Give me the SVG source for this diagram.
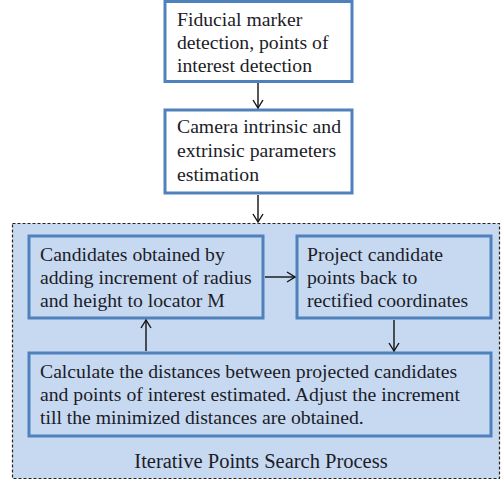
<svg xmlns="http://www.w3.org/2000/svg" width="503" height="480" viewBox="0 0 503 480">
<defs>
<marker id="arr" markerWidth="12" markerHeight="12" refX="10" refY="6" orient="auto" markerUnits="userSpaceOnUse">
<path d="M2,1 L10,6 L2,11" fill="none" stroke="#111" stroke-width="1.4"/>
</marker>
<style>
.box{stroke:#4f81bd;stroke-width:3}
.w{fill:#fff}
.b{fill:#c6d9f1}
.c{stroke:#111;stroke-width:1.4;fill:none;marker-end:url(#arr)}
.t{font-family:'Liberation Serif','Times New Roman',serif;font-size:19.7px;fill:#1c1c28}
</style>
</defs>
<rect width="503" height="480" fill="#fff"/>
<g class="t">
<g id="container">
<rect x="12.5" y="223.5" width="487" height="255" fill="#c6d9f1" stroke="#222" stroke-width="1.2" stroke-dasharray="3,2"/>
<text x="261" y="468" text-anchor="middle" font-size="20.5">Iterative Points Search Process</text>
</g>
<g id="n1">
<rect class="box w" x="165" y="1.5" width="187" height="80"/>
<text x="177" y="26">Fiducial marker</text>
<text x="177" y="49">detection, points of</text>
<text x="177" y="72">interest detection</text>
</g>
<g id="n2">
<rect class="box w" x="165" y="110" width="187" height="83"/>
<text x="177" y="133">Camera intrinsic and</text>
<text x="177" y="157">extrinsic parameters</text>
<text x="177" y="181">estimation</text>
</g>
<g id="n3">
<rect class="box b" x="29" y="236" width="234" height="82"/>
<text x="40" y="261">Candidates obtained by</text>
<text x="40" y="284">adding increment of radius</text>
<text x="40" y="307">and height to locator M</text>
</g>
<g id="n4">
<rect class="box b" x="297" y="236" width="194" height="82"/>
<text x="307" y="261">Project candidate</text>
<text x="307" y="284">points back to</text>
<text x="307" y="307">rectified coordinates</text>
</g>
<g id="n5">
<rect class="box b" x="29" y="353" width="462" height="83"/>
<text x="40" y="378">Calculate the distances between projected candidates</text>
<text x="40" y="401">and points of interest estimated. Adjust the increment</text>
<text x="40" y="424">till the minimized distances are obtained.</text>
</g>
</g>
<g id="connectors">
<line class="c" x1="258" y1="83" x2="258" y2="108"/>
<line class="c" x1="258" y1="195" x2="258" y2="222"/>
<line class="c" x1="265" y1="277" x2="295" y2="277"/>
<line class="c" x1="394" y1="320" x2="394" y2="351"/>
<line class="c" x1="146" y1="351" x2="146" y2="320"/>
</g>
</svg>
